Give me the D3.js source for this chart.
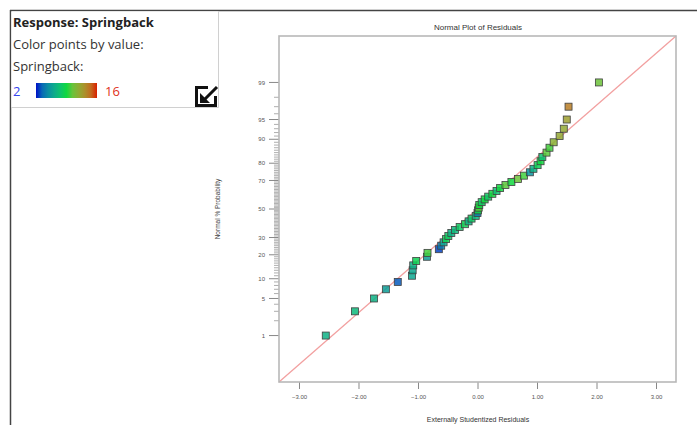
<!DOCTYPE html>
<html>
<head>
<meta charset="utf-8">
<script src="https://cdn.jsdelivr.net/npm/d3@7"></script>
<style>
  body { margin: 0; background: #fff; }
  svg { display: block; }
</style>
</head>
<body>
<svg width="697" height="425"></svg>
<script>
// normal % probability of each run (rank order) and its externally studentized residual
const probability = [1, 3, 5, 7, 9, 11, 13, 15, 17, 19, 21, 23, 25, 27, 29, 31, 33, 35, 37, 39,
  41, 43, 45, 47, 49, 51, 53, 55, 57, 59, 61, 63, 65, 67, 69, 71, 73, 75, 77, 79,
  81, 83, 85, 87, 89, 91, 93, 95, 97, 99];
const residual = [-2.55, -2.06, -1.74, -1.54, -1.34, -1.10, -1.09, -1.08, -1.03, -0.85,
  -0.84, -0.65, -0.61, -0.57, -0.53, -0.49, -0.44, -0.38, -0.30, -0.21,
  -0.15, -0.10, -0.03, 0.00, 0.01, 0.02, 0.03, 0.07, 0.12, 0.18,
  0.25, 0.32, 0.38, 0.47, 0.57, 0.68, 0.78, 0.88, 0.94, 1.01,
  1.06, 1.09, 1.16, 1.21, 1.28, 1.38, 1.45, 1.50, 1.53, 2.04];
const springback = [6.5, 7, 6.5, 5.5, 3, 6, 6, 6.5, 8.5, 5.5,
  9.5, 2.5, 4, 6, 8.5, 8, 6.5, 7, 8, 8.5,
  6.5, 8, 7, 4, 9, 10, 9, 8, 9, 8,
  9, 7.5, 9, 10, 9, 10.5, 9.5, 5, 6.5, 8.5,
  9, 7.5, 10, 9.5, 11.5, 12, 12, 12.5, 14, 10.5];

const xTicks = [-3, -2, -1, 0, 1, 2, 3];
const yTicks = [1, 5, 10, 20, 30, 50, 70, 80, 90, 95, 99];
const colorRange = [2, 16];

// reference line, corner to corner (residual, z)
const lineResidual = [-3.336, 3.336];
const lineZ = [-3.18, 3.18];

// inverse normal cdf (Acklam)
function probit(p) {
  const a = [-39.69683028665376, 220.9460984245205, -275.9285104469687, 138.357751867269, -30.66479806614716, 2.506628277459239];
  const b = [-54.47609879822406, 161.5858368580409, -155.6989798598866, 66.80131188771972, -13.28068155288572];
  const c = [-0.007784894002430293, -0.3223964580411365, -2.400758277161838, -2.549732539343734, 4.374664141464968, 2.938163982698783];
  const d = [0.007784695709041462, 0.3224671290700398, 2.445134137142996, 3.754408661907416];
  const pl = 0.02425;
  let q, r;
  if (p < pl) {
    q = Math.sqrt(-2 * Math.log(p));
    return (((((c[0] * q + c[1]) * q + c[2]) * q + c[3]) * q + c[4]) * q + c[5]) / ((((d[0] * q + d[1]) * q + d[2]) * q + d[3]) * q + 1);
  } else if (p <= 1 - pl) {
    q = p - 0.5; r = q * q;
    return (((((a[0] * r + a[1]) * r + a[2]) * r + a[3]) * r + a[4]) * r + a[5]) * q / (((((b[0] * r + b[1]) * r + b[2]) * r + b[3]) * r + b[4]) * r + 1);
  }
  q = Math.sqrt(-2 * Math.log(1 - p));
  return -(((((c[0] * q + c[1]) * q + c[2]) * q + c[3]) * q + c[4]) * q + c[5]) / ((((d[0] * q + d[1]) * q + d[2]) * q + d[3]) * q + 1);
}

const svg = d3.select('svg');

const x = d3.scaleLinear().domain([-3.336, 3.336]).range([279, 676]);
const yz = d3.scaleLinear().domain([-3.18, 3.18]).range([382, 36]);
const y = p => yz(probit(p / 100));

const interp = d3.interpolateRgb.gamma(2.2);
const color = d3.scaleLinear()
  .domain([colorRange[0], (colorRange[0] + colorRange[1]) / 2, colorRange[1]])
  .range(['#0010c8', '#10d840', '#d82000'])
  .interpolate(interp);

// page frame
svg.append('line').attr('x1', 10).attr('x2', 697).attr('y1', 10.5).attr('y2', 10.5)
  .attr('stroke', '#444').attr('stroke-width', 1.5);
svg.append('line').attr('x1', 10.5).attr('x2', 10.5).attr('y1', 10).attr('y2', 425)
  .attr('stroke', '#444').attr('stroke-width', 1.5);

// title
svg.append('text')
  .attr('x', 478).attr('y', 30)
  .attr('text-anchor', 'middle')
  .style('font', '8px "Liberation Sans", Arial, sans-serif')
  .attr('fill', '#333')
  .text('Normal Plot of Residuals');

// y minor ticks (every integer percent)
const minor = d3.range(1, 100).filter(p => !yTicks.includes(p));
svg.append('g').selectAll('line').data(minor).enter().append('line')
  .attr('x1', 274).attr('x2', 279)
  .attr('y1', d => y(d)).attr('y2', d => y(d))
  .attr('stroke', '#999').attr('stroke-width', 0.8);

// y axis (probability scale)
const yg = svg.append('g');
yg.selectAll('line').data(yTicks).enter().append('line')
  .attr('x1', 269).attr('x2', 279)
  .attr('y1', d => y(d)).attr('y2', d => y(d))
  .attr('stroke', '#888').attr('stroke-width', 1);
yg.selectAll('text').data(yTicks).enter().append('text')
  .attr('x', 265).attr('y', d => y(d)).attr('dy', '0.35em')
  .attr('text-anchor', 'end')
  .style('font', '6px "Liberation Sans", Arial, sans-serif')
  .attr('fill', '#555')
  .text(d => d);

// x axis
svg.append('g')
  .attr('transform', 'translate(0,382)')
  .call(d3.axisBottom(x).tickValues(xTicks).tickSize(7).tickFormat(d3.format('.2f')))
  .call(g => g.select('.domain').remove())
  .call(g => g.selectAll('line').attr('stroke', '#888'))
  .call(g => g.selectAll('text').attr('fill', '#555').attr('dy', '1.1em')
    .style('font', '6px "Liberation Sans", Arial, sans-serif'));

// axis titles
svg.append('text')
  .attr('x', 478).attr('y', 422)
  .attr('text-anchor', 'middle')
  .style('font', '7px "Liberation Sans", Arial, sans-serif')
  .attr('fill', '#333')
  .text('Externally Studentized Residuals');
svg.append('text')
  .attr('transform', 'translate(220,209) rotate(-90)')
  .attr('text-anchor', 'middle')
  .style('font', '6.5px "Liberation Sans", Arial, sans-serif')
  .attr('fill', '#444')
  .text('Normal % Probability');

// reference line
svg.append('line')
  .attr('x1', x(lineResidual[0])).attr('y1', yz(lineZ[0]))
  .attr('x2', x(lineResidual[1])).attr('y2', yz(lineZ[1]))
  .attr('stroke', '#f2a0a0').attr('stroke-width', 1.3);

// plot frame
svg.append('rect')
  .attr('x', 279).attr('y', 36).attr('width', 397).attr('height', 346)
  .attr('fill', 'none').attr('stroke', '#b8b8b8').attr('stroke-width', 1.6);

// points
const pts = probability.map((p, i) => ({ p: p, r: residual[i], s: springback[i] }));
svg.append('g').selectAll('rect').data(pts).enter().append('rect')
  .attr('x', d => x(d.r) - 3.5)
  .attr('y', d => y(d.p) - 3.5)
  .attr('width', 7).attr('height', 7)
  .attr('fill', d => color(d.s))
  .attr('fill-opacity', 0.85)
  .attr('stroke', '#404040').attr('stroke-width', 0.8);

// legend box
const lg = svg.append('g');
lg.append('rect').attr('x', 11.5).attr('y', 11.5).attr('width', 207).attr('height', 96)
  .attr('fill', '#fff');
lg.append('path').attr('d', 'M218.5,11 V107.5 H11')
  .attr('fill', 'none').attr('stroke', '#d0d0d0').attr('stroke-width', 1);
const lfont = '13px "Open Sans", "Noto Sans", sans-serif';
lg.append('text').attr('x', 13).attr('y', 27).style('font', 'bold ' + lfont).attr('fill', '#222')
  .text('Response: Springback');
lg.append('text').attr('x', 13).attr('y', 49).style('font', lfont).attr('fill', '#333')
  .text('Color points by value:');
lg.append('text').attr('x', 13).attr('y', 71).style('font', lfont).attr('fill', '#333')
  .text('Springback:');
lg.append('text').attr('x', 13).attr('y', 96).style('font', lfont).attr('fill', '#3344ee')
  .text(colorRange[0]);
lg.append('text').attr('x', 105).attr('y', 96).style('font', lfont).attr('fill', '#e03020')
  .text(colorRange[1]);

const grad = svg.append('defs').append('linearGradient').attr('id', 'sb');
d3.range(0, 1.001, 0.1).forEach(t => {
  grad.append('stop').attr('offset', t)
    .attr('stop-color', color(colorRange[0] + t * (colorRange[1] - colorRange[0])));
});
lg.append('rect').attr('x', 36).attr('y', 83).attr('width', 61).attr('height', 15)
  .attr('fill', 'url(#sb)');

// collapse icon
lg.append('path').attr('d', 'M208,87.5 H196.5 V105.5 H215.5 V96')
  .attr('fill', 'none').attr('stroke', '#111').attr('stroke-width', 3);
lg.append('path').attr('d', 'M217,87 L205,99')
  .attr('stroke', '#111').attr('stroke-width', 3);
lg.append('path').attr('d', 'M200,103 L200,93 L210,103 Z').attr('fill', '#111');
</script>
</body>
</html>
